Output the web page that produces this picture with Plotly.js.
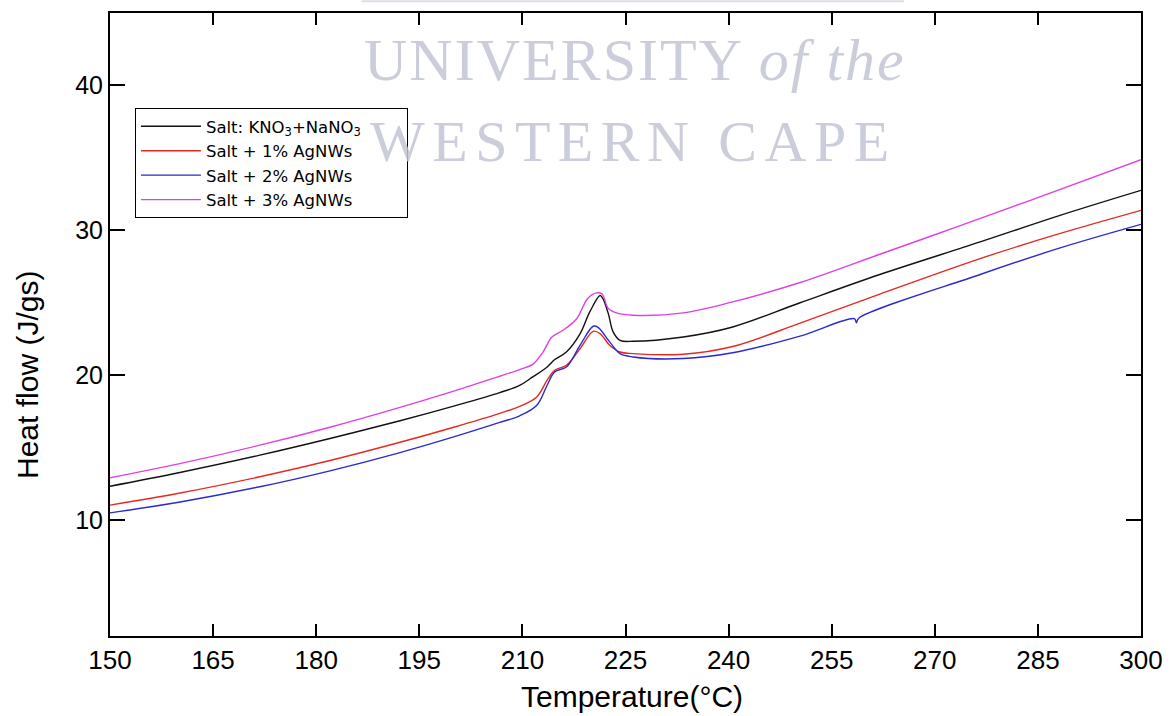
<!DOCTYPE html>
<html>
<head>
<meta charset="utf-8">
<script src="https://cdn.plot.ly/plotly-3.0.1.min.js"></script>
<style>
  html, body { margin: 0; padding: 0; background: #fff; }
  #chart { width: 1173px; height: 716px; }
</style>
</head>
<body>
<div id="chart"></div>
<script>
// ---- Data ----
const seriesNames = [
  "Salt: KNO<sub>3</sub>+NaNO<sub>3</sub>",
  "Salt + 1% AgNWs",
  "Salt + 2% AgNWs",
  "Salt + 3% AgNWs"
];

const saltT = [150, 160, 171.8, 182, 192.2, 200, 206.7, 209.6, 211.5, 213.6, 214.7, 216.4, 218.4, 219.8, 221.3, 221.7, 222.5, 223.2, 224.2, 226.1, 233.4, 240.6, 250.4, 262, 276.6, 288, 300];
const saltY = [12.34, 13.27, 14.48, 15.63, 16.86, 17.87, 18.8, 19.3, 19.88, 20.57, 21.08, 21.6, 22.87, 24.37, 25.5, 25.3, 24.25, 22.99, 22.41, 22.34, 22.64, 23.33, 25.0, 26.95, 29.2, 31.0, 32.76];

const ag1T = [150, 160, 171.8, 182, 192.2, 200, 206.7, 209.6, 212.1, 213.6, 214.7, 216.4, 218.4, 220.3, 221.3, 222.7, 224.2, 226.1, 233.4, 240.6, 250.4, 262, 276.6, 288, 300];
const ag1Y = [11.03, 11.85, 12.99, 14.11, 15.37, 16.41, 17.37, 17.85, 18.5, 19.66, 20.34, 20.69, 21.84, 23.03, 22.87, 22.07, 21.6, 21.49, 21.45, 21.98, 23.6, 25.6, 28.05, 29.75, 31.38];

const ag2T = [150, 160, 171.8, 182, 192.2, 200, 206.7, 209.6, 212.1, 213.6, 214.7, 216.4, 218.4, 220.3, 221.0, 222.7, 224.2, 226.1, 233.4, 240.6, 250.4, 258.3, 258.6, 258.9, 276.6, 288, 300];
const ag2Y = [10.5, 11.23, 12.3, 13.4, 14.66, 15.74, 16.74, 17.2, 17.93, 19.31, 20.23, 20.57, 22.07, 23.38, 23.3, 22.3, 21.49, 21.26, 21.15, 21.55, 22.7, 23.9, 23.62, 23.92, 26.95, 28.75, 30.41];

const ag3T = [150, 160, 171.8, 182, 192.2, 200, 206.7, 209.6, 211.5, 213.0, 214.3, 215.9, 217.9, 219.5, 220.8, 221.6, 222.5, 223.8, 226.1, 233.4, 240.6, 250.4, 262, 273, 283.9, 300];
const ag3Y = [12.92, 13.88, 15.17, 16.41, 17.78, 18.9, 19.93, 20.39, 20.75, 21.6, 22.64, 23.1, 23.9, 25.3, 25.68, 25.6, 24.6, 24.28, 24.14, 24.3, 25.06, 26.4, 28.35, 30.2, 32.07, 34.87];

const seriesColors = ["#111111", "#e8281e", "#2a2ad0", "#e040e0"];

const xTicks = [150, 165, 180, 195, 210, 225, 240, 255, 270, 285, 300];
const yTicks = [10, 20, 30, 40];

const xTitle = "Temperature(°C)";
const yTitle = "Heat flow (J/gs)";

// ---- Traces ----
const xs = [saltT, ag1T, ag2T, ag3T];
const ys = [saltY, ag1Y, ag2Y, ag3Y];
const traces = xs.map((x, i) => ({
  type: "scatter",
  mode: "lines",
  x: x,
  y: ys[i],
  name: seriesNames[i],
  line: { color: seriesColors[i], width: 1.4, shape: "spline", smoothing: 1 }
}));

const axisCommon = {
  showgrid: false,
  zeroline: false,
  showline: true,
  linecolor: "#000",
  linewidth: 2,
  mirror: "ticks",
  ticks: "inside",
  tickcolor: "#000",
  tickwidth: 2
};

const sans = "Liberation Sans, Arial, sans-serif";
const serif = "Liberation Serif, Times New Roman, serif";
const wmColor = "rgba(194,196,211,0.85)";

const layout = {
  width: 1173,
  height: 716,
  margin: { l: 110, r: 32, t: 13, b: 80 },
  paper_bgcolor: "#ffffff",
  plot_bgcolor: "#ffffff",
  font: { family: sans, color: "#000" },
  showlegend: true,
  legend: {
    x: 0.0242, y: 0.8475, xanchor: "left", yanchor: "top",
    bordercolor: "#000", borderwidth: 1, bgcolor: "rgba(255,255,255,0)",
    font: { size: 16.5, family: "DejaVu Sans, Liberation Sans, sans-serif", color: "#000" },
    itemwidth: 60,
    tracegroupgap: 0
  },
  xaxis: Object.assign({}, axisCommon, {
    range: [150, 300],
    tickvals: xTicks,
    ticktext: xTicks.map(String),
    ticklen: 12,
    tickfont: { size: 26, family: sans }
  }),
  yaxis: Object.assign({}, axisCommon, {
    range: [2, 45],
    tickvals: yTicks,
    ticktext: yTicks.map(String),
    ticklen: 15,
    tickfont: { size: 25, family: sans }
  }),
  annotations: [
    {
      xref: "paper", yref: "paper", x: 0.509, y: 0.9246, xanchor: "center", yanchor: "middle",
      text: "UNIVERSITY <i>of the</i>", showarrow: false,
      font: { family: serif, size: 60, color: wmColor }
    },
    {
      xref: "paper", yref: "paper", x: 0.508, y: 0.7945, xanchor: "center", yanchor: "middle",
      text: "WESTERN CAPE", showarrow: false,
      font: { family: serif, size: 58, color: wmColor }
    },
    {
      xref: "paper", yref: "paper", x: 0.5065, y: -0.097, xanchor: "center", yanchor: "middle",
      text: xTitle, showarrow: false,
      font: { family: sans, size: 30, color: "#000" }
    },
    {
      xref: "paper", yref: "paper", x: -0.0795, y: 0.419, xanchor: "center", yanchor: "middle",
      text: yTitle, showarrow: false, textangle: -90,
      font: { family: sans, size: 30, color: "#000" }
    }
  ],
  shapes: [
    {
      type: "line", xref: "paper", yref: "paper",
      x0: 0.244, x1: 0.77, y0: 1.019, y1: 1.019,
      line: { color: "#dcdde6", width: 2 }
    }
  ]
};

Plotly.newPlot("chart", traces, layout, { displayModeBar: false, staticPlot: true }).then(() => {
  const ann = document.querySelectorAll(".annotation-text");
  if (ann[0]) ann[0].style.letterSpacing = "2px";
  if (ann[1]) ann[1].style.letterSpacing = "7.5px";
  // widen the legend frame to the reference's box width
  const bg = document.querySelector(".legend rect.bg");
  if (bg) bg.setAttribute("width", "272");
});
</script>
</body>
</html>
